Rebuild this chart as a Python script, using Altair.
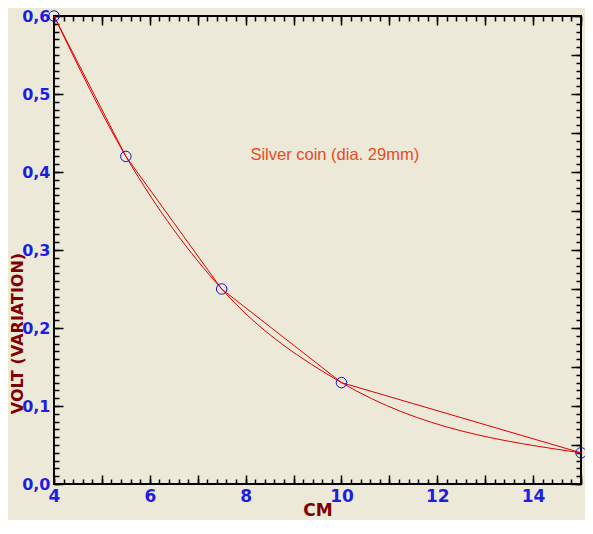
import altair as alt
import pandas as pd

# data
CM = [4.0, 5.5, 7.5, 10.0, 15.0]
VOLT = [0.60, 0.42, 0.25, 0.13, 0.04]

NOTE_X = [8.1]
NOTE_Y = [0.422]
NOTE_TEXT = ["Silver coin (dia. 29mm)"]

X_MAJOR = [4, 5, 6, 7, 8, 9, 10, 11, 12, 13, 14, 15]
X_MINOR = [round(4 + i * 0.2, 2) for i in range(56)]
Y_MAJOR = [0.0, 0.1, 0.2, 0.3, 0.4, 0.5, 0.6]
Y_MID = [round(i * 0.05, 2) for i in range(13)]
Y_MINOR = [round(i * 0.01, 2) for i in range(61)]

BG = "#ECE9D8"
RED = "#DD0000"
BLUE = "#1E1EE0"
DARKRED = "#800000"
NOTE = "#EA4A1E"
FONT = "DejaVu Sans"

df = pd.DataFrame({"cm": CM, "volt": VOLT})
note = pd.DataFrame({"cm": NOTE_X, "volt": NOTE_Y, "label": NOTE_TEXT})

xs = alt.Scale(domain=[4, 15], nice=False, zero=False)
ys = alt.Scale(domain=[0, 0.6], nice=False, zero=False)


def tick_axis(orient, values, size, **kw):
    base = dict(
        orient=orient, values=values, tickSize=size, offset=-size,
        domain=False, grid=False, tickColor="black", tickWidth=1.5,
        labels=False, title=None,
    )
    base.update(kw)
    return alt.Axis(**base)


x_bottom = tick_axis(
    "bottom", X_MAJOR, 9, labels=True,
    labelExpr="datum.value % 2 == 0 ? datum.label : ''",
    labelFont=FONT, labelFontSize=17, labelFontWeight="bold", labelColor=BLUE,
    labelPadding=4, labelFlush=False, labelOverlap=False,
    title="CM", titleFont=FONT, titleFontSize=17, titleFontWeight="bold",
    titleColor=DARKRED, titlePadding=-2,
)
y_left = tick_axis(
    "left", Y_MAJOR, 9, labels=True,
    labelExpr="replace(format(datum.value, '.1f'), '.', ',')",
    labelFont=FONT, labelFontSize=16, labelFontWeight="bold", labelColor=BLUE,
    labelPadding=4, labelFlush=False, labelOverlap=False,
    title="VOLT (VARIATION)", titleFont=FONT, titleFontSize=16,
    titleFontWeight="bold", titleColor=DARKRED, titlePadding=-4, titleY=317,
)

poly = alt.Chart(df).mark_line(color=RED, strokeWidth=1).encode(
    x=alt.X("cm:Q", scale=xs, axis=x_bottom),
    y=alt.Y("volt:Q", scale=ys, axis=y_left),
)
spline = alt.Chart(df).mark_line(color=RED, strokeWidth=1, interpolate="monotone").encode(
    x=alt.X("cm:Q", scale=xs, axis=tick_axis("bottom", X_MINOR, 5)),
    y=alt.Y("volt:Q", scale=ys, axis=tick_axis("left", Y_MINOR, 5)),
)
pts = alt.Chart(df).mark_point(
    shape="circle", filled=False, size=110, color="#1010D0", strokeWidth=1, opacity=1
).encode(
    x=alt.X("cm:Q", scale=xs, axis=tick_axis("top", X_MAJOR, 9)),
    y=alt.Y("volt:Q", scale=ys, axis=tick_axis("right", Y_MID, 10)),
)
txt = alt.Chart(note).mark_text(
    align="left", baseline="middle", font="Liberation Sans", fontSize=16.5, color=NOTE
).encode(
    x=alt.X("cm:Q", scale=xs, axis=tick_axis("top", X_MINOR, 5)),
    y=alt.Y("volt:Q", scale=ys, axis=tick_axis("right", Y_MINOR, 5)),
    text="label:N",
)

chart = (
    alt.layer(poly, spline, pts, txt)
    .resolve_axis(x="independent", y="independent")
    .properties(
        width=527, height=468,
        autosize=alt.AutoSizeParams(type="none"),
        padding={"left": 46, "top": 8, "right": 4, "bottom": 36},
        background=BG,
    )
    .configure_view(stroke="black", strokeWidth=2)
)

chart.save("out.html", embed_options={"renderer": "svg", "actions": False})
